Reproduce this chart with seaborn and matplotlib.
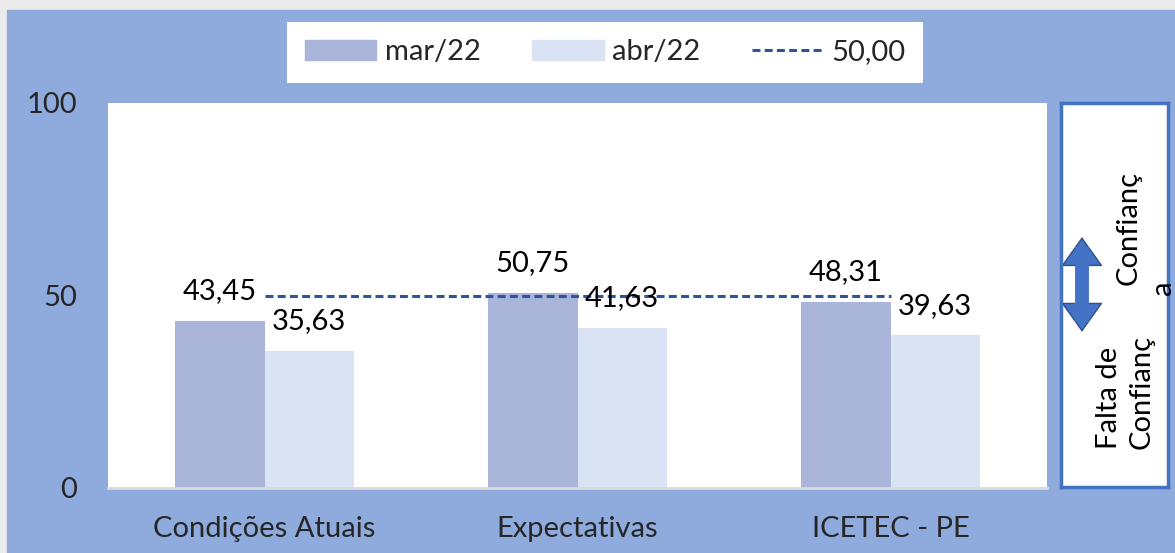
import matplotlib
matplotlib.use("Agg")
import matplotlib.pyplot as plt
import matplotlib.patches as mpatches
import seaborn as sns
import pandas as pd

categories = ["Condições Atuais", "Expectativas", "ICETEC - PE"]
periods = ["mar/22", "abr/22"]
mar_values = [43.45, 50.75, 48.31]
abr_values = [35.63, 41.63, 39.63]
reference = [50.0, 50.0, 50.0]
ref_label = "50,00"

colors = ["#A9B6DA", "#DAE3F3"]
bg_blue = "#8FAADC"
line_color = "#2F5597"
FS = 21

sns.set_theme(style="white")
plt.rcParams["font.family"] = ["Lato", "DejaVu Sans"]
plt.rcParams["font.size"] = FS

df = pd.DataFrame({
    "categoria": categories * 2,
    "periodo": [periods[0]] * 3 + [periods[1]] * 3,
    "valor": mar_values + abr_values,
})

W, H = 1175, 553
fig = plt.figure(figsize=(W / 100, H / 100), dpi=100, facecolor="#EBEBEB")
fig.patches.append(mpatches.Rectangle((7 / W, 0), 1 - 7 / W, 1 - 10 / H,
                                      transform=fig.transFigure, color=bg_blue, zorder=-10))

ax = fig.add_axes([108 / W, 1 - 488 / H, (1047 - 108) / W, (488 - 103) / H])
ax.set_facecolor("white")
sns.barplot(data=df, x="categoria", y="valor", hue="periodo", palette=colors,
            width=0.57, gap=0, saturation=1, linewidth=0, ax=ax, legend=False)
sns.lineplot(x=[0, 1, 2], y=reference, ax=ax, color=line_color,
             dashes=False, legend=False)
ax.lines[-1].set_linestyle((0, (2.6, 1.4)))
ax.lines[-1].set_linewidth(2.2)

for cont in ax.containers:
    ax.bar_label(cont, labels=[f"{v:.2f}".replace(".", ",") for v in cont.datavalues],
                 padding=12, fontsize=FS, color="black")

ax.set_ylim(0, 100)
ax.set_xlim(-0.5, 2.5)
ax.set_yticks([0, 50, 100])
ax.set_xlabel("")
ax.set_ylabel("")
ax.tick_params(axis="y", length=0, pad=22, labelsize=FS)
ax.tick_params(axis="x", length=0, pad=20, labelsize=FS)
for s in ["top", "right", "left"]:
    ax.spines[s].set_visible(False)
ax.spines["bottom"].set_color("#D9D9D9")
ax.spines["bottom"].set_linewidth(2)

handles = [mpatches.Patch(color=colors[0], label=periods[0]),
           mpatches.Patch(color=colors[1], label=periods[1]),
           plt.Line2D([], [], color=line_color, linestyle=(0, (2.6, 1.4)), linewidth=2.2,
                      label=ref_label)]
leg = fig.legend(handles=handles, loc="center", bbox_to_anchor=((275 + 917) / 2 / W + 0.008, 1 - 52 / H),
                 ncol=3, frameon=True, fancybox=False, framealpha=1, edgecolor="white",
                 fontsize=FS, handlelength=2.45, handletextpad=0.3, columnspacing=1.75,
                 borderpad=0.6, borderaxespad=0)
leg.get_frame().set_linewidth(0)

# side panel with confidence indicator
ax2 = fig.add_axes([1061 / W, 1 - 487 / H, (1168 - 1061) / W, (487 - 103) / H])
ax2.set_facecolor("white")
ax2.set_xticks([])
ax2.set_yticks([])
for s in ax2.spines.values():
    s.set_color("#4472C4")
    s.set_linewidth(2.5)
ax2.set_xlim(0, 1)
ax2.set_ylim(0, 1)
ax2.add_patch(mpatches.FancyArrowPatch((0.196, 0.404), (0.196, 0.651),
                                       arrowstyle="<|-|>,head_length=1.4,head_width=1.0",
                                       mutation_scale=14, linewidth=1,
                                       facecolor="#4472C4", edgecolor="#2F528F",
                                       shrinkA=0, shrinkB=0))
ax2.plot([0.196, 0.196], [0.43, 0.625], color="#4472C4", linewidth=10, solid_capstyle="butt")
ax2.text(0.63, 0.674, "Confianç", rotation=90, ha="center", va="center",
         fontsize=FS, color="black")
ax2.text(0.95, 0.52, "a", rotation=90, ha="center", va="center",
         fontsize=FS, color="black")
ax2.text(0.60, 0.247, "Falta de\nConfianç", rotation=90, ha="center", va="center",
         multialignment="left", linespacing=1.3, fontsize=FS, color="black")

fig.savefig("out.png", dpi=100, facecolor=fig.get_facecolor())
